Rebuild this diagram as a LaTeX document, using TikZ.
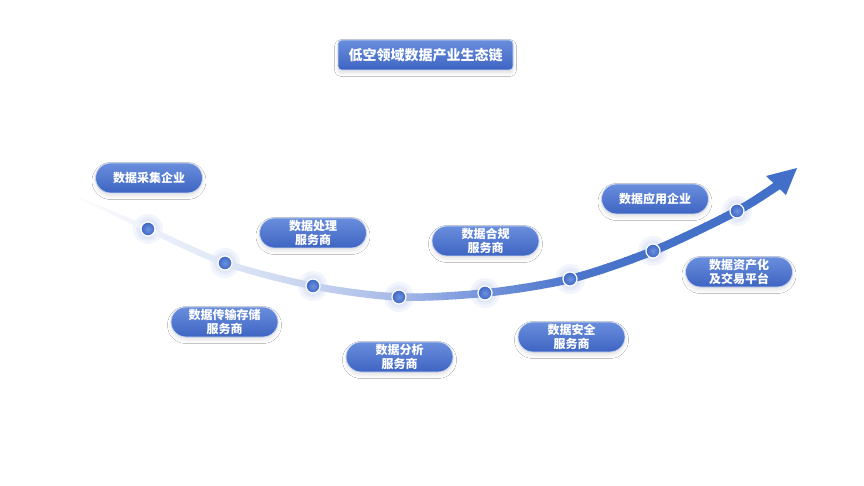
\documentclass[tikz,border=0pt]{standalone}
\usepackage{fontspec}
\newfontfamily\cjk{Noto Sans CJK SC}
\usetikzlibrary{shadows.blur}
\definecolor{bZ}{HTML}{FFFFFF}
\definecolor{bA}{HTML}{EEF1FA}
\definecolor{bB}{HTML}{DFE6F6}
\definecolor{bC}{HTML}{C6D2EF}
\definecolor{bD}{HTML}{A6B9E7}
\definecolor{bE}{HTML}{7393DA}
\definecolor{bF}{HTML}{4D76CC}
\definecolor{bG}{HTML}{4571C8}
\definecolor{bH}{HTML}{4270C8}
\definecolor{pillTop}{HTML}{6A8EDD}
\definecolor{pillBot}{HTML}{3D64C2}
\definecolor{pillEdge}{HTML}{C8D5F2}
\definecolor{dotIn}{HTML}{6E92DE}
\definecolor{dotOut}{HTML}{3C66C4}
\definecolor{haloC}{HTML}{C9D5F3}
\begin{document}
\begin{tikzpicture}[x=1pt,y=-1pt,
  pill/.style={rounded corners=15pt, minimum width=107pt, minimum height=30pt,
    top color=pillTop, bottom color=pillBot, draw=pillEdge, line width=0.8pt,
    text=white, align=center, inner sep=0pt,
    font=\cjk\bfseries\fontsize{12}{14.5}\selectfont,
    blur shadow={shadow xshift=0pt, shadow yshift=-3pt, shadow blur radius=3.5pt, shadow opacity=11}},
  titlebox/.style={rounded corners=3.5pt, minimum width=175pt, minimum height=30pt,
    top color=pillTop, bottom color=pillBot, draw=pillEdge, line width=0.8pt,
    text=white, inner sep=0pt,
    font=\cjk\bfseries\fontsize{14}{16}\selectfont,
    blur shadow={shadow xshift=0pt, shadow yshift=-3pt, shadow blur radius=3.5pt, shadow opacity=13}},
  halo/.style={fill=haloC, fill opacity=0.22, draw=none},
  dot/.style={circle, minimum size=14pt, inner sep=0pt, inner color=dotIn, outer color=dotOut, draw=white, line width=1.2pt}
]
\useasboundingbox (0,0) rectangle (864,486);
\fill[white] (0,0) rectangle (864,486);

% halos
\foreach \x/\y in {148/229,225/263,313/286,399/297,485/293,570/279,653/251,737/211}{
  \fill[halo] (\x,\y) circle (15pt);
  \fill[halo] (\x,\y) circle (12pt);
  \fill[halo] (\x,\y) circle (10pt);}

% band (clipped, coloured in thin vertical strips)
\begin{scope}
\clip plot[smooth] coordinates {(75,195.5) (148,226) (225,259.7) (313,282.5) (399,293.3) (485,289.1) (570,274.8) (653,246.5) (737,206.2) (781,177.5)}
  -- plot[smooth] coordinates {(781,188.5) (737,215.8) (653,255.5) (570,283.2) (485,296.9) (399,300.7) (313,289.5) (225,266.3) (148,232) (75,196.5)} -- cycle;
\foreach \xa/\xb/\ca/\cb in {60/148/bZ/bA,148/225/bA/bB,225/313/bB/bC,313/399/bC/bD,399/485/bD/bE,485/570/bE/bF,570/653/bF/bG,653/800/bG/bH}{
  \foreach \i in {0,...,19}{
    \pgfmathsetmacro\xl{\xa+\i*(\xb-\xa)/20}
    \pgfmathsetmacro\xr{\xl+(\xb-\xa)/20+0.6}
    \pgfmathsetmacro\pc{\i*5+2.5}
    \fill[\cb!\pc!\ca] (\xl,150) rectangle (\xr,320);
  }}
\end{scope}

% arrow head
\coordinate (tip) at (797,168);
\coordinate (barbL) at (766,176);
\coordinate (barbR) at (786,195);
\fill[bH] (tip) -- (barbL) -- (barbR) -- cycle;

% dots
\node[dot] (d1) at (148,229) {};
\node[dot] (d2) at (225,263) {};
\node[dot] (d3) at (313,286) {};
\node[dot] (d4) at (399,297) {};
\node[dot] (d5) at (485,293) {};
\node[dot] (d6) at (570,279) {};
\node[dot] (d7) at (653,251) {};
\node[dot] (d8) at (737,211) {};

% title
\node[titlebox] (title) at (425.5,55) {低空领域数据产业生态链};

% labels
\node[pill] (p1) at (149,178) {数据采集企业};
\node[pill] (p2) at (313,233) {数据处理\\服务商};
\node[pill] (p3) at (224.5,322) {数据传输存储\\服务商};
\node[pill] (p4) at (399.5,357) {数据分析\\服务商};
\node[pill] (p5) at (485.5,241) {数据合规\\服务商};
\node[pill] (p6) at (571.5,337) {数据安全\\服务商};
\node[pill] (p7) at (655,199) {数据应用企业};
\node[pill] (p8) at (739,272) {数据资产化\\及交易平台};
\end{tikzpicture}
\end{document}
